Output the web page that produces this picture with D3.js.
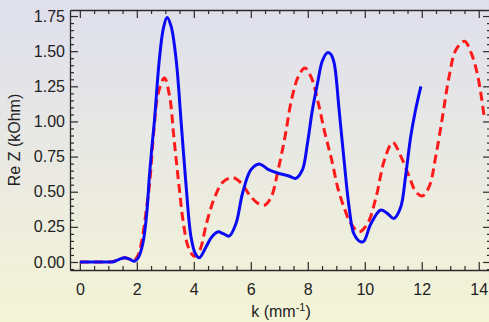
<!DOCTYPE html>
<html>
<head>
<meta charset="utf-8">
<script src="https://cdn.jsdelivr.net/npm/d3@7"></script>
<style>
  html, body { margin: 0; padding: 0; }
  svg { display: block; }
  text { font-family: "Liberation Sans", Arial, sans-serif; fill: #222; }
</style>
</head>
<body>
<svg id="chart" width="489" height="322"></svg>
<script>
// Real part of impedance vs. wavenumber, two model curves
const blueK = [0, 0.5, 1.0, 1.15, 1.4, 1.57, 1.75, 1.92, 2.05, 2.21, 2.35, 2.44, 2.53, 2.62, 2.79, 2.93, 3.06, 3.2, 3.38, 3.55, 3.73, 3.9, 4.05, 4.19, 4.43, 4.6, 4.83, 5.05, 5.24, 5.48, 5.71, 6.0, 6.29, 6.64, 6.99, 7.34, 7.58, 7.81, 7.99, 8.16, 8.34, 8.51, 8.69, 8.8, 8.92, 9.1, 9.27, 9.45, 9.62, 9.86, 9.97, 10.21, 10.56, 10.79, 11.02, 11.26, 11.43, 11.61, 11.78, 11.97];
const blueZ = [0, 0, 0, 0.0, 0.02, 0.03, 0.02, 0.005, 0.03, 0.13, 0.35, 0.61, 0.82, 1.01, 1.44, 1.66, 1.74, 1.68, 1.44, 1.01, 0.54, 0.18, 0.06, 0.03, 0.107, 0.17, 0.214, 0.2, 0.184, 0.274, 0.489, 0.655, 0.698, 0.655, 0.63, 0.612, 0.595, 0.655, 0.846, 1.08, 1.27, 1.43, 1.49, 1.48, 1.42, 1.08, 0.73, 0.39, 0.2, 0.143, 0.148, 0.27, 0.37, 0.346, 0.31, 0.39, 0.607, 0.89, 1.08, 1.25];

const redK = [0, 0.5, 1.0, 1.2, 1.4, 1.57, 1.75, 1.9, 2.05, 2.2, 2.35, 2.45, 2.6, 2.75, 2.97, 3.15, 3.3, 3.47, 3.64, 3.8, 4.02, 4.21, 4.44, 4.73, 5.03, 5.38, 5.67, 5.96, 6.25, 6.49, 6.72, 6.96, 7.2, 7.43, 7.67, 7.9, 8.13, 8.37, 8.6, 8.84, 9.05, 9.27, 9.51, 9.8, 10.1, 10.4, 10.69, 10.98, 11.27, 11.56, 11.79, 12.02, 12.26, 12.49, 12.73, 12.96, 13.2, 13.5, 13.73, 13.97, 14.2];
const redZ = [0, 0, 0, 0.005, 0.02, 0.03, 0.02, 0.01, 0.05, 0.18, 0.4, 0.56, 0.94, 1.2, 1.31, 1.18, 0.89, 0.56, 0.27, 0.11, 0.04, 0.084, 0.27, 0.46, 0.57, 0.6, 0.56, 0.476, 0.417, 0.405, 0.464, 0.655, 0.89, 1.155, 1.32, 1.38, 1.31, 1.13, 0.917, 0.726, 0.53, 0.39, 0.274, 0.214, 0.274, 0.464, 0.726, 0.85, 0.75, 0.607, 0.5, 0.47, 0.536, 0.75, 1.036, 1.32, 1.51, 1.57, 1.49, 1.32, 1.02];

const xTickValues = [0, 2, 4, 6, 8, 10, 12, 14];
const yTickValues = [0, 0.25, 0.5, 0.75, 1.0, 1.25, 1.5, 1.75];

const W = 489, H = 322;
const frame = { left: 70, right: 491, top: 10, bottom: 270 };

const svg = d3.select("#chart");

// page background: lavender at top fading to pale yellow
const defs = svg.append("defs");
const grad = defs.append("linearGradient")
  .attr("id", "bg").attr("x1", 0).attr("y1", 0).attr("x2", 0).attr("y2", 1);
grad.append("stop").attr("offset", "0%").attr("stop-color", "#dfdfed");
grad.append("stop").attr("offset", "50%").attr("stop-color", "#e9e9e3");
grad.append("stop").attr("offset", "100%").attr("stop-color", "#f4f4d6");
svg.append("rect").attr("width", W).attr("height", H).attr("fill", "url(#bg)");

defs.append("clipPath").attr("id", "plotclip")
  .append("rect")
  .attr("x", frame.left).attr("y", frame.top)
  .attr("width", frame.right - frame.left).attr("height", frame.bottom - frame.top);

const x = d3.scaleLinear().domain([-0.345, 14.43]).range([frame.left, frame.right]);
const y = d3.scaleLinear().domain([-0.057, 1.793]).range([frame.bottom, frame.top]);

const xMinor = d3.range(0, 14.5, 0.5).filter(v => !xTickValues.includes(v));
const yMinor = d3.range(-0.05, 1.8, 0.05).map(v => +v.toFixed(2))
  .filter(v => !yTickValues.some(t => Math.abs(t - v) < 1e-6) && v >= -0.057 && v <= 1.793);

const axisColor = "#2a2a2a";
const major = 8, minor = 4;

function styleAxis(g) {
  g.select(".domain").attr("stroke", axisColor).attr("stroke-width", 1.3);
  g.selectAll(".tick line").attr("stroke", axisColor).attr("stroke-width", 1.2);
  g.selectAll(".tick text").attr("fill", "#222").style("font-size", "16px")
    .style("font-family", "'Liberation Sans', Arial, sans-serif");
}

// bottom axis with labels, inward ticks
const gx = svg.append("g").attr("transform", `translate(0,${frame.bottom})`)
  .call(d3.axisBottom(x).tickValues(xTickValues).tickSize(-major).tickSizeOuter(0)
    .tickPadding(major + 6).tickFormat(d3.format("d")));
styleAxis(gx);
svg.append("g").attr("transform", `translate(0,${frame.bottom})`)
  .call(d3.axisBottom(x).tickValues(xMinor).tickSize(-minor).tickSizeOuter(0).tickFormat(""))
  .call(g => { g.select(".domain").remove(); styleAxis(g); });

// top axis, ticks only
const gxt = svg.append("g").attr("transform", `translate(0,${frame.top})`)
  .call(d3.axisTop(x).tickValues(xTickValues).tickSize(-major).tickSizeOuter(0).tickFormat(""));
styleAxis(gxt);
svg.append("g").attr("transform", `translate(0,${frame.top})`)
  .call(d3.axisTop(x).tickValues(xMinor).tickSize(-minor).tickSizeOuter(0).tickFormat(""))
  .call(g => { g.select(".domain").remove(); styleAxis(g); });

// left axis with labels
const gy = svg.append("g").attr("transform", `translate(${frame.left},0)`)
  .call(d3.axisLeft(y).tickValues(yTickValues).tickSize(-major).tickSizeOuter(0)
    .tickPadding(4).tickFormat(d3.format(".2f")));
styleAxis(gy);
gy.selectAll(".tick text").attr("x", -5);
svg.append("g").attr("transform", `translate(${frame.left},0)`)
  .call(d3.axisLeft(y).tickValues(yMinor).tickSize(-minor).tickSizeOuter(0).tickFormat(""))
  .call(g => { g.select(".domain").remove(); styleAxis(g); });

// right axis, ticks only
const gyr = svg.append("g").attr("transform", `translate(${frame.right},0)`)
  .call(d3.axisRight(y).tickValues(yTickValues).tickSize(-major).tickSizeOuter(0).tickFormat(""));
styleAxis(gyr);
svg.append("g").attr("transform", `translate(${frame.right},0)`)
  .call(d3.axisRight(y).tickValues(yMinor).tickSize(-minor).tickSizeOuter(0).tickFormat(""))
  .call(g => { g.select(".domain").remove(); styleAxis(g); });

// curves
const line = d3.line()
  .x(d => x(d[0])).y(d => y(d[1]))
  .curve(d3.curveCatmullRom.alpha(0.5));

const plot = svg.append("g").attr("clip-path", "url(#plotclip)");

plot.append("path")
  .datum(d3.zip(redK, redZ))
  .attr("d", line)
  .attr("fill", "none")
  .attr("stroke", "#ff1a1a")
  .attr("stroke-width", 3)
  .attr("stroke-dasharray", "9,5");

plot.append("path")
  .datum(d3.zip(blueK, blueZ))
  .attr("d", line)
  .attr("fill", "none")
  .attr("stroke", "#0a0af5")
  .attr("stroke-width", 3)
  .attr("stroke-linejoin", "round");

// axis titles
const xt = svg.append("text")
  .attr("x", 281).attr("y", 317)
  .attr("text-anchor", "middle")
  .style("font-size", "16px");
xt.append("tspan").text("k (mm");
xt.append("tspan").attr("dy", -6).style("font-size", "11px").text("-1");
xt.append("tspan").attr("dy", 6).text(")");

svg.append("text")
  .attr("transform", "translate(20,140) rotate(-90)")
  .attr("text-anchor", "middle")
  .style("font-size", "16px")
  .text("Re Z (kOhm)");
</script>
</body>
</html>
